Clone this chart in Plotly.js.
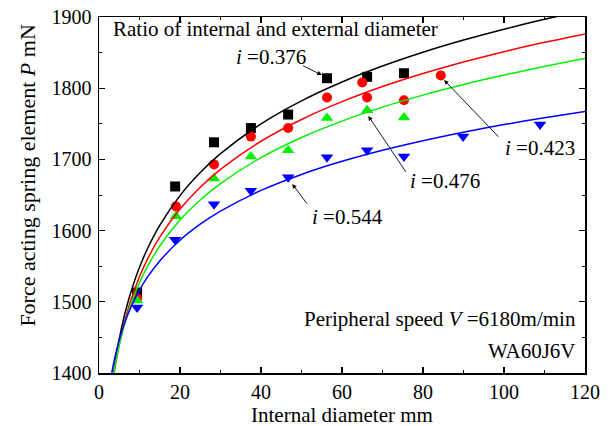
<!DOCTYPE html>
<html>
<head>
<meta charset="utf-8">
<script src="https://cdn.plot.ly/plotly-3.0.1.min.js"></script>
<style>html,body{margin:0;padding:0;background:#fff;}#chart{width:615px;height:426px;}</style>
</head>
<body>
<div id="chart"></div>
<script>
// Measured points (internal diameter mm, force mN)
var xBlack = [9.4, 18.8, 28.4, 37.5, 46.7, 56.3, 66.2, 75.3];
var yBlack = [1513, 1662, 1724, 1744, 1763, 1814, 1816, 1821];
var xRed = [9.4, 19, 28.4, 37.5, 46.7, 56.3, 65, 66.2, 75.3, 84.4];
var yRed = [1505, 1634, 1693, 1732, 1744, 1787, 1808, 1787, 1783, 1818];
var xGreen = [9.4, 19, 28.4, 37.5, 46.7, 56.3, 66.2, 75.3];
var yGreen = [1502, 1620, 1673, 1704, 1713, 1758, 1769, 1759];
var xBlue = [9.4, 18.8, 28.4, 37.5, 46.7, 56.3, 66.2, 75.3, 89.9, 108.9];
var yBlue = [1492, 1587, 1637, 1656, 1675, 1703, 1713, 1704, 1732, 1749];

// Fitted curves
var curveX = [3, 3.5, 4, 5, 6, 7, 8, 10, 12, 15, 20, 25, 30, 40, 50, 60, 70, 80, 90, 100, 110, 120];
var curveBlack = [1373.4, 1395.8, 1415.2, 1447.6, 1474.1, 1496.5, 1515.9, 1548.4, 1574.9, 1607.3, 1649.1, 1681.5, 1708.0, 1749.8, 1782.2, 1808.7, 1831.1, 1850.5, 1867.6, 1882.9, 1896.8, 1909.4];
var curveRed = [1369.8, 1391.0, 1409.3, 1440.0, 1465.0, 1486.2, 1504.5, 1535.1, 1560.2, 1590.8, 1630.3, 1661.0, 1686.0, 1725.5, 1756.1, 1781.1, 1802.3, 1820.6, 1836.8, 1851.3, 1864.4, 1876.3];
var curveGreen = [1374.6, 1394.1, 1411.0, 1439.2, 1462.3, 1481.8, 1498.8, 1527.0, 1550.1, 1578.3, 1614.8, 1643.0, 1666.1, 1702.5, 1730.8, 1753.8, 1773.4, 1790.3, 1805.2, 1818.5, 1830.6, 1841.6];
var curveBlue = [1395.0, 1410.6, 1424.1, 1446.6, 1465.0, 1480.5, 1494.0, 1516.5, 1534.9, 1557.4, 1586.5, 1609.0, 1627.4, 1656.4, 1678.9, 1697.3, 1712.9, 1726.3, 1738.2, 1748.9, 1758.5, 1767.3];

var ratioLabels = ['0.376', '0.423', '0.476', '0.544'];

var FONT = '"Liberation Serif", "Times New Roman", Times, serif';

function pts(x, y, color, symbol, size) {
  return {x: x, y: y, type: 'scatter', mode: 'markers',
    marker: {color: color, symbol: symbol, size: size, line: {width: 0}},
    hoverinfo: 'skip', cliponaxis: false};
}
function curve(y, color) {
  return {x: curveX, y: y, type: 'scatter', mode: 'lines',
    line: {color: color, width: 1.5, shape: 'spline', smoothing: 0.8}, hoverinfo: 'skip'};
}

var data = [
  pts(xBlack, yBlack, '#000000', 'square', 10),
  pts(xRed, yRed, '#ff0000', 'circle', 10),
  pts(xGreen, yGreen, '#00f000', 'triangle-up', 11),
  pts(xBlue, yBlue, '#0000ff', 'triangle-down', 11),
  curve(curveBlack, '#000000'),
  curve(curveRed, '#ff0000'),
  curve(curveGreen, '#00f000'),
  curve(curveBlue, '#0000ff')
];

function arrow(hx, hy, tx, ty) {
  return {x: hx, y: hy, ax: tx, ay: ty, xref: 'x', yref: 'y', axref: 'x', ayref: 'y',
    text: '', showarrow: true, arrowhead: 2, arrowsize: 1, arrowwidth: 0.9,
    arrowcolor: '#000', standoff: 0, startstandoff: 0};
}
function label(x, y, txt) {
  return {x: x, y: y, xref: 'x', yref: 'y', text: '<i>i</i> =' + txt, showarrow: false,
    xanchor: 'center', yanchor: 'middle', font: {family: FONT, size: 21, color: '#000'}};
}

var annotations = [
  {x: 0.024, y: 0.966, xref: 'paper', yref: 'paper', xanchor: 'left', yanchor: 'middle',
    text: 'Ratio of internal and external diameter', showarrow: false,
    font: {family: FONT, size: 21, color: '#000'}},
  label(42.4, 1844, ratioLabels[0]),
  label(108.9, 1715.6, ratioLabels[1]),
  label(85.4, 1669.7, ratioLabels[2]),
  label(61.4, 1619.5, ratioLabels[3]),
  arrow(55.0, 1818.5, 50.0, 1832.6),
  arrow(85.2, 1811.5, 99.0, 1729.6),
  arrow(66.5, 1761, 76.0, 1680.5),
  arrow(47.7, 1665.5, 51.6, 1636),
  {x: 0.986, y: 0.151, xref: 'paper', yref: 'paper', xanchor: 'right', yanchor: 'middle',
    text: 'Peripheral speed <i>V</i> =6180m/min', showarrow: false,
    font: {family: FONT, size: 21, color: '#000'}},
  {x: 0.986, y: 0.063, xref: 'paper', yref: 'paper', xanchor: 'right', yanchor: 'middle',
    text: 'WA60J6V', showarrow: false, font: {family: FONT, size: 21, color: '#000'}},
  {x: -0.147, y: 0.556, xref: 'paper', yref: 'paper', xanchor: 'center', yanchor: 'middle',
    textangle: -90, text: 'Force acting spring element <i>P</i> mN', showarrow: false,
    font: {family: FONT, size: 22, color: '#000'}},
  {x: 0.5, y: -0.118, xref: 'paper', yref: 'paper', xanchor: 'center', yanchor: 'middle',
    text: 'Internal diameter mm', showarrow: false,
    font: {family: FONT, size: 21, color: '#000'}}
];

var axisCommon = {
  showgrid: false, zeroline: false, showline: true, linecolor: '#000', linewidth: 1.5,
  mirror: 'allticks', ticks: 'inside', ticklen: 6, tickwidth: 1.2, tickcolor: '#000',
  tickfont: {family: FONT, size: 20, color: '#000'}
};

var layout = {
  width: 615, height: 426,
  margin: {l: 99, r: 30, t: 17, b: 53, pad: 0},
  paper_bgcolor: '#fff', plot_bgcolor: '#fff',
  font: {family: FONT, color: '#000'},
  showlegend: false,
  xaxis: Object.assign({}, axisCommon, {range: [0, 120], tick0: 0, dtick: 20,
    minor: {dtick: 10, ticks: 'inside', ticklen: 3, tickwidth: 1, tickcolor: '#000'},
    ticklabelstandoff: 0}),
  yaxis: Object.assign({}, axisCommon, {range: [1400, 1900], tick0: 1400, dtick: 100,
    minor: {dtick: 50, ticks: 'inside', ticklen: 3, tickwidth: 1, tickcolor: '#000'},
    ticklabelstandoff: 2}),
  annotations: annotations
};

Plotly.newPlot('chart', data, layout, {staticPlot: true, displayModeBar: false});
</script>
</body>
</html>
